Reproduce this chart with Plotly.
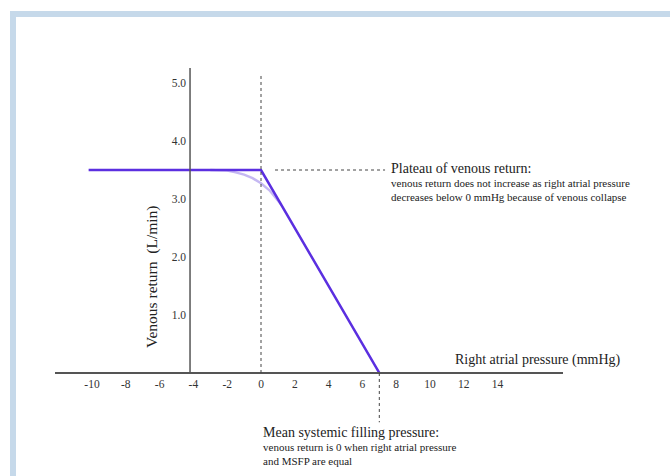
import plotly.graph_objects as go

# ---------------- data ----------------
x_tick_vals = [-10, -8, -6, -4, -2, 0, 2, 4, 6, 8, 10, 12, 14]
x_tick_text = ["-10", "-8", "-6", "-4", "-2", "0", "2", "4", "6", "8", "10", "12", "14"]
y_tick_vals = [1, 2, 3, 4, 5]
y_tick_text = ["1.0", "2.0", "3.0", "4.0", "5.0"]

# venous return curve (right atrial pressure mmHg, venous return L/min)
vr_x = [-10.2, 0, 7]
vr_y = [3.5, 3.5, 0]

# physiological (rounded) curve near the plateau knee
soft_x = [-3.0, -2.0, -1.5, -1.0, -0.5, 0.0, 0.5, 1.0, 1.2]
soft_y = [3.5, 3.49, 3.46, 3.42, 3.36, 3.27, 3.15, 2.98, 2.90]

plateau = 3.5
msfp = 7
y_axis_at = -4.2

# ---------------- layout geometry ----------------
W, H = 670, 476
ML, MR, MT, MB = 55, 107, 60, 46
x_range = [-12.19, 17.87]
y_range = [-0.983, 5.397]
pw, ph = W - ML - MR, H - MT - MB

def px_to_paper_x(p):
    return (p - ML) / pw

def px_to_paper_y(p):
    return (H - MB - p) / ph

FONT = "Liberation Serif"
AXIS_COL = "#555555"
TXT = "#222222"
PURPLE = "#5b2fe0"

fig = go.Figure()
fig.add_trace(go.Scatter(x=soft_x, y=soft_y, mode="lines",
                         line=dict(color="rgba(150,125,232,0.55)", width=2.4),
                         hoverinfo="skip", showlegend=False))
fig.add_trace(go.Scatter(x=vr_x, y=vr_y, mode="lines",
                         line=dict(color=PURPLE, width=2.5),
                         showlegend=False))

shapes = [
    # y axis line (stops at the x axis)
    dict(type="line", xref="x", yref="y", x0=y_axis_at, x1=y_axis_at, y0=0, y1=5.26,
         line=dict(color=AXIS_COL, width=1.5)),
    # dashed line at 0 mmHg
    dict(type="line", xref="x", yref="y", x0=0, x1=0, y0=0, y1=5.14,
         line=dict(color="#444", width=1, dash="3px,3px")),
    # dashed leader for plateau label
    dict(type="line", xref="x", yref="y", x0=0.83, x1=7.34, y0=plateau, y1=plateau,
         line=dict(color="#444", width=1, dash="3px,3px")),
    # dashed leader below MSFP
    dict(type="line", xref="x", yref="y", x0=msfp, x1=msfp, y0=0, y1=-0.85,
         line=dict(color="#444", width=1, dash="3px,3px")),
    # decorative frame
    dict(type="rect", xref="paper", yref="paper",
         x0=px_to_paper_x(13), x1=px_to_paper_x(720),
         y0=px_to_paper_y(520), y1=px_to_paper_y(14),
         line=dict(color="#c6d9ea", width=6), fillcolor="rgba(0,0,0,0)", layer="below"),
]

annotations = [
    dict(x=11.36, y=0.224, xref="x", yref="y", xanchor="left", yanchor="middle",
         text="Right atrial pressure (mmHg)", showarrow=False,
         font=dict(family=FONT, size=14, color=TXT)),
    dict(x=px_to_paper_x(152), y=px_to_paper_y(277), xref="paper", yref="paper",
         xanchor="center", yanchor="middle", textangle=-90,
         text="Venous return&nbsp;&nbsp;(L/min)", showarrow=False,
         font=dict(family=FONT, size=15.5, color=TXT)),
    dict(x=7.57, y=3.53, xref="x", yref="y", xanchor="left", yanchor="middle",
         text="Plateau of venous return:", showarrow=False,
         font=dict(family=FONT, size=14, color=TXT)),
    dict(x=7.57, y=3.16, xref="x", yref="y", xanchor="left", yanchor="middle", align="left",
         text="venous return does not increase as right atrial pressure<br>"
              "decreases below 0 mmHg because of venous collapse",
         showarrow=False, font=dict(family=FONT, size=11, color=TXT)),
    dict(x=px_to_paper_x(261), y=px_to_paper_y(433), xref="paper", yref="paper",
         xanchor="left", yanchor="middle",
         text="Mean systemic filling pressure:", showarrow=False,
         font=dict(family=FONT, size=14, color=TXT)),
    dict(x=px_to_paper_x(261), y=px_to_paper_y(454), xref="paper", yref="paper",
         xanchor="left", yanchor="middle", align="left",
         text="venous return is 0 when right atrial pressure<br>and MSFP are equal",
         showarrow=False, font=dict(family=FONT, size=11, color=TXT)),
]

fig.update_layout(
    width=W, height=H,
    margin=dict(l=ML, r=MR, t=MT, b=MB, pad=0),
    paper_bgcolor="white", plot_bgcolor="white",
    showlegend=False,
    shapes=shapes, annotations=annotations,
    xaxis=dict(range=x_range, anchor="free",
               position=(0 - y_range[0]) / (y_range[1] - y_range[0]),
               showline=True, linecolor=AXIS_COL, linewidth=1.5,
               showgrid=False, zeroline=False, ticks="",
               tickvals=x_tick_vals, ticktext=x_tick_text,
               tickfont=dict(family=FONT, size=11.5, color="#333")),
    yaxis=dict(range=y_range, anchor="free",
               position=(y_axis_at - x_range[0]) / (x_range[1] - x_range[0]),
               showline=False, showgrid=False, zeroline=False, ticks="",
               ticklabelstandoff=4,
               tickvals=y_tick_vals, ticktext=y_tick_text,
               tickfont=dict(family=FONT, size=11.5, color="#333")),
)

fig.write_html("out.html", config={"displayModeBar": False},
               post_script="document.body.style.margin='0';document.body.style.overflow='hidden';")
